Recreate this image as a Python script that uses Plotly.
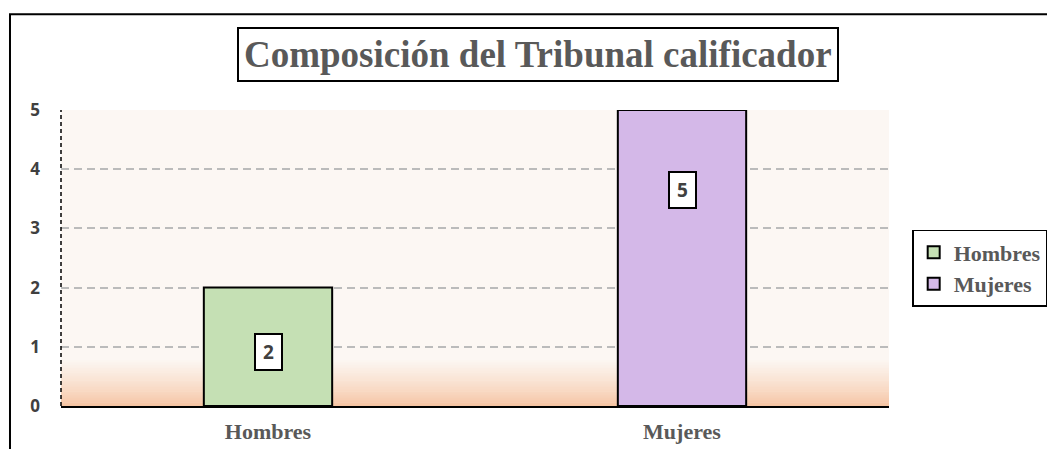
import plotly.graph_objects as go

categories = ["Hombres", "Mujeres"]
values = [2, 5]
bar_colors = ["#C5E0B4", "#D4B8E8"]
label_y = [0.91, 3.65]
y_ticks = [0, 1, 2, 3, 4, 5]

SERIF = "Liberation Serif, Times New Roman, serif"
SANS = "Noto Sans, Open Sans, sans-serif"

fig = go.Figure()
for cat, val, col in zip(categories, values, bar_colors):
    fig.add_trace(go.Bar(
        x=[cat], y=[val], name=cat, legendgroup=cat,
        marker=dict(color=col, line=dict(color="black", width=2)),
        width=0.31,
    ))

# background gradient (bottom peach to light)
n = 30
top_c = (252, 247, 243)
bot_c = (246, 196, 162)
g_h = 0.16
for i in range(n):
    t = i / (n - 1)
    t2 = t ** 0.8
    c = tuple(int(round(bot_c[k] + (top_c[k] - bot_c[k]) * t2)) for k in range(3))
    fig.add_shape(type="rect", xref="x domain", yref="y domain", x0=0, x1=1,
                  y0=g_h * i / n, y1=g_h * (i + 1) / n + 0.002,
                  fillcolor="rgb(%d,%d,%d)" % c, line_width=0, layer="below")

# dashed y axis line
fig.add_shape(type="line", xref="x domain", yref="y domain", x0=0, x1=0, y0=0, y1=1,
              line=dict(color="black", width=1.5, dash="4px,3px"), layer="above")

# outer border (right/bottom edges run off the page as in the reference)
fig.add_shape(type="rect", xref="paper", yref="paper", x0=-0.0616, x1=1.25, y0=-0.25, y1=1.3235,
              line=dict(color="black", width=2), fillcolor="rgba(0,0,0,0)")

# data labels
for cat, val, ly in zip(categories, values, label_y):
    fig.add_annotation(x=cat, y=ly, text=str(val), showarrow=False,
                       font=dict(family=SANS, size=19, color="#404040", weight="bold"),
                       bgcolor="white", bordercolor="black", borderwidth=2, borderpad=3,
                       width=19, height=28, xanchor="center", yanchor="middle")

# title
fig.add_annotation(xref="paper", yref="paper", x=0.576, y=1.186, xanchor="center", yanchor="middle",
                   text="Composición del Tribunal calificador", showarrow=False,
                   font=dict(family=SERIF, size=37, color="#595959", weight="bold"),
                   bordercolor="black", borderwidth=2, borderpad=5, bgcolor="white")

# page body adds an 8px margin; size the figure so the page fits the window exactly
fig.update_layout(
    width=1039, height=441,
    margin=dict(l=53, r=158, t=102, b=43, autoexpand=False),
    paper_bgcolor="white", plot_bgcolor="rgb(252,247,243)",
    barmode="overlay",
    showlegend=True,
    legend=dict(x=1.028, y=0.595, xanchor="left", yanchor="top",
                bordercolor="black", borderwidth=1.5, bgcolor="white",
                font=dict(family=SERIF, size=22, color="#595959", weight="bold"),
                tracegroupgap=8, itemwidth=30,
                traceorder="normal"),
    xaxis=dict(showgrid=False, showline=True, linecolor="black", linewidth=2,
               automargin=False,
               tickfont=dict(family=SERIF, size=22, color="#595959", weight="bold"),
               ticklabelstandoff=5, ticks=""),
    yaxis=dict(range=[0, 5], tickvals=y_ticks, showgrid=True, gridcolor="#BBBBBB", gridwidth=2,
               automargin=False,
               griddash="8px,5px", zeroline=False, showline=False, ticks="",
               tickfont=dict(family=SANS, size=17, color="#404040", weight="bold"),
               ticklabelstandoff=20),
)

fig.write_html("out.html")
